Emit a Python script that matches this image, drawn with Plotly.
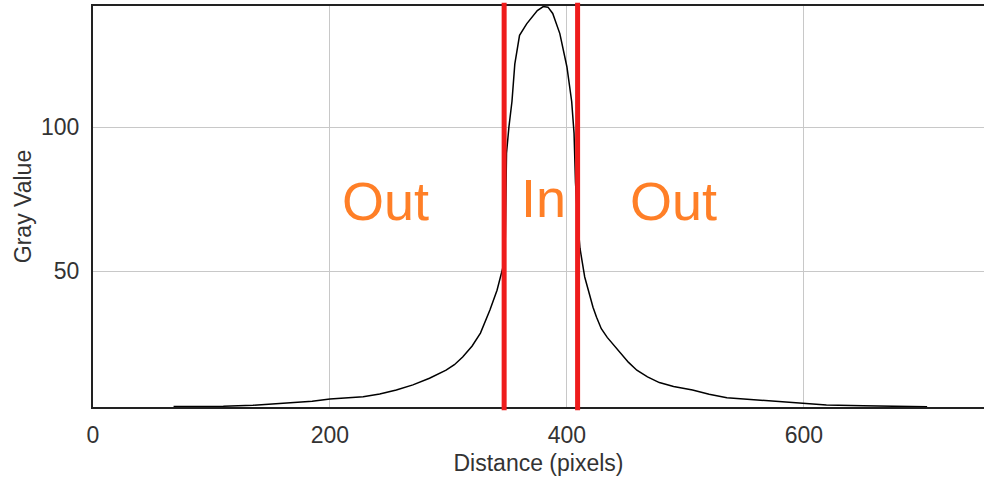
import plotly.graph_objects as go

# Profile data
distance = [68, 90, 110, 135, 150, 170, 185, 200, 215, 228, 242, 256, 270, 284, 298, 305, 312, 320, 327, 335, 341, 345, 347,
            348, 348.5, 349, 351, 353.6, 356, 360, 366, 370, 375, 380, 384, 388, 394, 400, 404, 406, 406.5, 407.2, 409, 411, 413,
            415, 419, 422, 425, 429, 434, 440, 445, 452, 459, 468, 478, 490, 506, 520, 535, 550, 563, 580, 597, 619, 650, 680, 704]
gray = [3.0, 3.0, 3.1, 3.4, 3.8, 4.3, 4.8, 5.6, 6.0, 6.4, 7.3, 8.7, 10.5, 12.8, 15.6, 17.5, 20.2, 24.0, 28.5, 36.5, 43.4, 50.0, 53.0,
        62.0, 75.0, 91.0, 100.0, 109.0, 122.0, 132.0, 136.0, 138.0, 140.6, 142.0, 141.8, 139.6, 132.6, 121.0, 109.0, 98.0, 92.0, 81.0, 68.0, 58.0, 53.0,
        48.0, 42.0, 37.5, 34.0, 30.0, 27.0, 24.0, 21.5, 18.3, 15.6, 13.3, 11.3, 9.9, 8.7, 7.2, 6.0, 5.6, 5.2, 4.7, 4.2, 3.5, 3.2, 3.0, 2.9]

boundaries = [347, 409]
region_labels = ["Out", "In", "Out"]
region_centers = [247, 380, 490]
region_y = [74.5, 75.5, 74.5]

x_ticks = [0, 200, 400, 600]
y_ticks = [50, 100]

fig = go.Figure()
fig.add_trace(go.Scatter(x=distance, y=gray, mode="lines",
                         line=dict(color="black", width=1.5), showlegend=False))

for b in boundaries:
    fig.add_shape(type="line", x0=b, x1=b, xref="x", yref="paper", y0=-0.008, y1=1.008,
                  line=dict(color="#EE1C1C", width=5), layer="above")

for lab, cx, cy in zip(region_labels, region_centers, region_y):
    fig.add_annotation(x=cx, y=cy, text=lab, showarrow=False,
                       font=dict(family="Liberation Sans, Arial", size=54, color="#FF7F27"))

font = dict(family="Liberation Sans, Arial", size=23, color="#333333")

fig.update_layout(
    width=984, height=482,
    margin=dict(l=93, r=0, t=6, b=75),
    paper_bgcolor="white", plot_bgcolor="white",
    font=font,
    xaxis=dict(range=[0, 752], tickvals=x_ticks, showgrid=True, gridcolor="#c8c8c8", gridwidth=1,
               showline=True, linecolor="#222222", linewidth=2, mirror=True, zeroline=False,
               ticks="", ticklabelstandoff=6,
               title=dict(text="Distance (pixels)", standoff=8, font=font), tickfont=font),
    yaxis=dict(range=[2.8, 142.2], tickvals=y_ticks, showgrid=True, gridcolor="#c8c8c8", gridwidth=1,
               showline=True, linecolor="#222222", linewidth=2, mirror=False, zeroline=False,
               ticks="", ticklabelstandoff=7,
               title=dict(text="Gray Value", standoff=3, font=font), tickfont=font),
)

fig.write_html("out.html")
